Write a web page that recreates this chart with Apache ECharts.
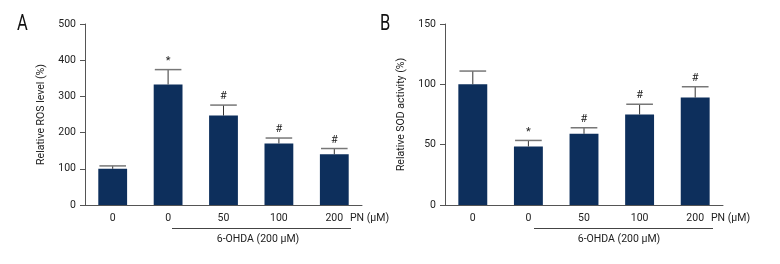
<!DOCTYPE html>
<html>
<head>
<meta charset="utf-8">
<script src="https://cdn.jsdelivr.net/npm/echarts@6/dist/echarts.min.js"></script>
<style>
  html, body { margin: 0; padding: 0; background: #fff; }
  #chart { width: 780px; height: 264px; }
</style>
</head>
<body>
<div id="chart"></div>
<script>
// PN dose per group (first group has no 6-OHDA)
const categories = ['0', '0', '50', '100', '200'];

// panel A - ROS
const rosMean = [100, 333, 247, 170, 140];
const rosErr = [8, 41, 29, 15, 16];
const rosMarks = ['', '*', '#', '#', '#'];

// panel B - SOD
const sodMean = [100, 48.5, 59, 75, 89];
const sodErr = [11, 5, 5, 8.5, 9];
const sodMarks = ['', '*', '#', '#', '#'];

const FONT = 'Roboto, "DejaVu Sans Condensed", sans-serif';
const FS = 10.5;
const BAR = '#0d2f5c';
const AXIS = '#555';

function errItem(means, errs, marks) {
  return function (params, api) {
    const i = api.value(0);
    const top = api.coord([i, means[i] + errs[i]]);
    const base = api.coord([i, means[i]]);
    const half = api.size([1, 0])[0] * 0.24;
    return {
      type: 'group',
      children: [
        { type: 'line', shape: { x1: top[0], y1: base[1], x2: top[0], y2: top[1] },
          style: { stroke: '#333', lineWidth: 1 } },
        { type: 'line', shape: { x1: top[0] - half, y1: top[1], x2: top[0] + half, y2: top[1] },
          style: { stroke: '#777', lineWidth: 1.5 } },
        { type: 'text', x: top[0], y: top[1] - 3,
          style: { text: marks[i], fill: '#222', font: '11px ' + FONT, align: 'center', verticalAlign: 'bottom' } }
      ]
    };
  };
}

function xAxisOf(gi) {
  return {
    gridIndex: gi, type: 'category', data: categories,
    axisLine: { lineStyle: { color: AXIS, width: 1 } },
    axisTick: { alignWithLabel: true, length: 3, lineStyle: { color: AXIS } },
    axisLabel: { color: '#222', fontFamily: FONT, fontSize: FS, margin: 8 }
  };
}

function yAxisOf(gi, max, interval, name) {
  return {
    gridIndex: gi, type: 'value', min: 0, max: max, interval: interval,
    name: name, nameLocation: 'middle', nameRotate: 90, nameGap: 38,
    nameTextStyle: { color: '#222', fontFamily: FONT, fontSize: FS },
    axisLine: { show: true, lineStyle: { color: AXIS, width: 1 } },
    axisTick: { show: true, length: 5, lineStyle: { color: AXIS } },
    axisLabel: { color: '#222', fontFamily: FONT, fontSize: FS, margin: 9 },
    splitLine: { show: false }
  };
}

const txt = { font: FS + 'px ' + FONT, fill: '#222' };

const chart = echarts.init(document.getElementById('chart'));
chart.setOption({
  animation: false,
  grid: [
    { left: 85, top: 24, width: 277, height: 181 },
    { left: 445, top: 24, width: 278, height: 181 }
  ],
  xAxis: [xAxisOf(0), xAxisOf(1)],
  yAxis: [
    yAxisOf(0, 500, 100, 'Relative ROS level (%)'),
    yAxisOf(1, 150, 50, 'Relative SOD activity (%)')
  ],
  series: [
    { type: 'bar', xAxisIndex: 0, yAxisIndex: 0, data: rosMean, barWidth: '52%',
      itemStyle: { color: BAR } },
    { type: 'custom', xAxisIndex: 0, yAxisIndex: 0, z: 3,
      data: rosMean.map((v, i) => [i, v + rosErr[i]]),
      renderItem: errItem(rosMean, rosErr, rosMarks) },
    { type: 'bar', xAxisIndex: 1, yAxisIndex: 1, data: sodMean, barWidth: '52%',
      itemStyle: { color: BAR } },
    { type: 'custom', xAxisIndex: 1, yAxisIndex: 1, z: 3,
      data: sodMean.map((v, i) => [i, v + sodErr[i]]),
      renderItem: errItem(sodMean, sodErr, sodMarks) }
  ],
  graphic: [
    { type: 'text', x: 17, y: 13, scaleX: 0.75, style: { text: 'A', font: '22px ' + FONT, fill: '#111' } },
    { type: 'text', x: 380, y: 13, scaleX: 0.75, style: { text: 'B', font: '22px ' + FONT, fill: '#111' } },
    { type: 'text', x: 350, y: 218, style: Object.assign({ text: 'PN (μM)', verticalAlign: 'middle' }, txt) },
    { type: 'text', x: 711, y: 218, style: Object.assign({ text: 'PN (μM)', verticalAlign: 'middle' }, txt) },
    { type: 'line', shape: { x1: 172, y1: 228.5, x2: 351, y2: 228.5 }, style: { stroke: '#444', lineWidth: 1 } },
    { type: 'line', shape: { x1: 534, y1: 228.5, x2: 713, y2: 228.5 }, style: { stroke: '#444', lineWidth: 1 } },
    { type: 'text', x: 258, y: 239, style: Object.assign({ text: '6-OHDA (200 μM)', align: 'center', verticalAlign: 'middle' }, txt) },
    { type: 'text', x: 619, y: 239, style: Object.assign({ text: '6-OHDA (200 μM)', align: 'center', verticalAlign: 'middle' }, txt) }
  ]
});
</script>
</body>
</html>
